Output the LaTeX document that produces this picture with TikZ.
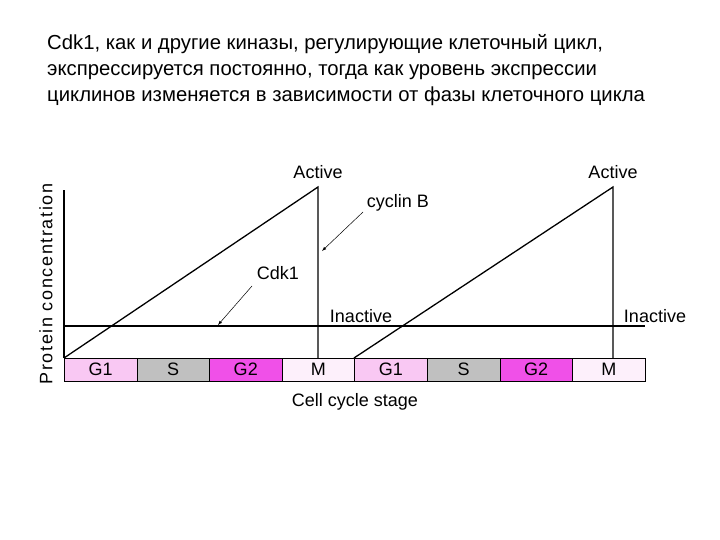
\documentclass[tikz,border=0pt]{standalone}
\usepackage{fontspec}
\setmainfont{Liberation Sans}
\begin{document}
\begin{tikzpicture}[x=1pt,y=-1pt,
  lbl/.style={font=\fontsize{18}{20}\selectfont,inner sep=0},
  seg/.style={draw=black,line width=0.5pt,minimum width=72.6pt,minimum height=23pt,inner sep=0,anchor=west,font=\fontsize{18}{20}\selectfont},
  curve/.style={line width=1.3pt},
  ptr/.style={-latex,line width=0.5pt}]
\useasboundingbox (0,0) rectangle (720,540);
\node[anchor=west,align=left,inner sep=0,font=\fontsize{20.3}{26}\selectfont] (t) at (47,70)
 {Cdk1, как и другие киназы, регулирующие клеточный цикл,\\экспрессируется постоянно, тогда как уровень экспрессии\\циклинов изменяется в зависимости от фазы клеточного цикла};
\definecolor{cg1}{HTML}{F9C8F3}\definecolor{cs}{HTML}{C0C0C0}\definecolor{cg2}{HTML}{F050E8}\definecolor{cm}{HTML}{FDF0FB}
\foreach \i/\t/\c in {0/G1/cg1,1/S/cs,2/G2/cg2,3/M/cm,4/G1/cg1,5/S/cs,6/G2/cg2,7/M/cm}
  \node[seg,fill=\c] (s\i) at ({64+72.6*\i},369.5) {\t};
\coordinate (o) at (64,358);
\coordinate (ytop) at (64,190);
\coordinate (p1) at (318,187);
\coordinate (b1) at (318,358);
\coordinate (o2) at (354,358);
\coordinate (p2) at (613,187);
\coordinate (b2) at (613,358);
\coordinate (hl) at (64,326);
\coordinate (hr) at (645,326);
\draw[line width=1.2pt] (o) -- (ytop);
\draw[curve] (hl) -- (hr);
\draw[curve] (o) -- (p1) -- (b1);
\draw[curve] (o2) -- (p2) -- (b2);
\node[lbl] (a1) at (318,172) {Active};
\node[lbl] (a2) at (613,172) {Active};
\node[lbl] (cb) at (398,203) {cyclin B};
\node[lbl] (ck) at (278,273) {Cdk1};
\node[lbl] (i1) at (361,316) {Inactive};
\node[lbl] (i2) at (655,316) {Inactive};
\node[lbl] (x) at (355,402) {Cell cycle stage};
\node[lbl,rotate=90,font=\fontsize{18}{20}\selectfont\addfontfeature{LetterSpace=9}] (y) at (46,284) {Protein concentration};
\coordinate (cbs) at (363,212); \coordinate (cbe) at (322,251);
\coordinate (cks) at (252,286); \coordinate (cke) at (218,325);
\draw[ptr] (cbs) -- (cbe);
\draw[ptr] (cks) -- (cke);
\end{tikzpicture}
\end{document}
